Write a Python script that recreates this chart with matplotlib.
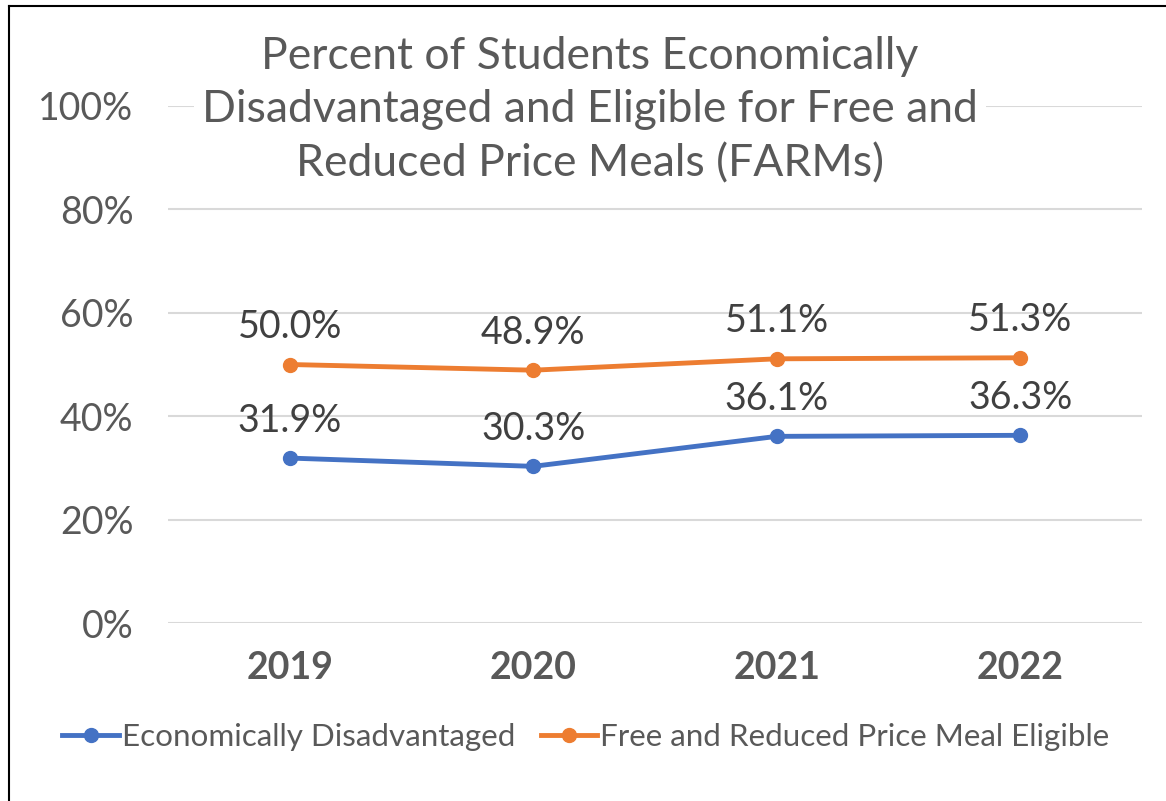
import matplotlib
matplotlib.use("Agg")
import matplotlib.pyplot as plt
from matplotlib.lines import Line2D

plt.rcParams['font.family'] = ['Lato', 'DejaVu Sans']

years = ["2019", "2020", "2021", "2022"]
econ_dis = [31.9, 30.3, 36.1, 36.3]
farms = [50.0, 48.9, 51.1, 51.3]
yticks = [0, 20, 40, 60, 80, 100]
title = "Percent of Students Economically\nDisadvantaged and Eligible for Free and\nReduced Price Meals (FARMs)"
series_names = ["Economically Disadvantaged", "Free and Reduced Price Meal Eligible"]

W, H = 1166, 801
fig = plt.figure(figsize=(W / 100, H / 100), dpi=100)
ax = fig.add_axes([168 / W, 1 - 623 / H, (1142 - 168) / W, (623 - 106) / H])

x = list(range(len(years)))
blue = "#4472C4"
orange = "#ED7D31"
for vals, col, name in [(econ_dis, blue, series_names[0]), (farms, orange, series_names[1])]:
    ax.plot(x, vals, color=col, lw=3.5, marker='o', ms=10, label=name, solid_capstyle='round', zorder=3)
    for xi, v in zip(x, vals):
        ax.annotate(f"{v:.1f}%", (xi, v), xytext=(0, 19), textcoords='offset points',
                    ha='center', va='baseline', fontsize=27, color='#404040')

ax.set_xlim(-0.5, len(years) - 0.5)
ax.set_ylim(0, 100)
ax.set_yticks(yticks)
ax.set_yticklabels([f"{t}%" for t in yticks], fontsize=27, color='#595959')
ax.set_xticks(x)
ax.set_xticklabels(years, fontsize=27, fontweight='bold', color='#595959')
ax.tick_params(axis='both', length=0)
ax.tick_params(axis='y', pad=25)
ax.tick_params(axis='x', pad=20)
ax.grid(axis='y', color='#D9D9D9', lw=1.5, zorder=0)
ax.set_axisbelow(True)
for s in ax.spines.values():
    s.set_visible(False)

fig.text(590 / W, 1 - 110 / H, title, ha='center', va='center', fontsize=32, color='#595959',
         linespacing=1.38, bbox=dict(facecolor='white', edgecolor='none', pad=6), zorder=5)

handles = [Line2D([0], [0], color=blue, lw=3.5, marker='o', ms=10),
           Line2D([0], [0], color=orange, lw=3.5, marker='o', ms=10)]
fig.legend(handles, series_names, loc='center', bbox_to_anchor=(586 / W, 1 - 737 / H), ncol=2,
           frameon=False, fontsize=22.6, labelcolor='#595959', handlelength=1.8, handletextpad=0.1,
           columnspacing=0.8)

# partial frame (left and top edges)
fig.add_artist(Line2D([9 / W, 9 / W], [0, 1 - 6 / H], color='black', lw=1.5, transform=fig.transFigure))
fig.add_artist(Line2D([9 / W, 1], [1 - 6 / H, 1 - 6 / H], color='black', lw=1.5, transform=fig.transFigure))

fig.savefig("out.png", dpi=100)
